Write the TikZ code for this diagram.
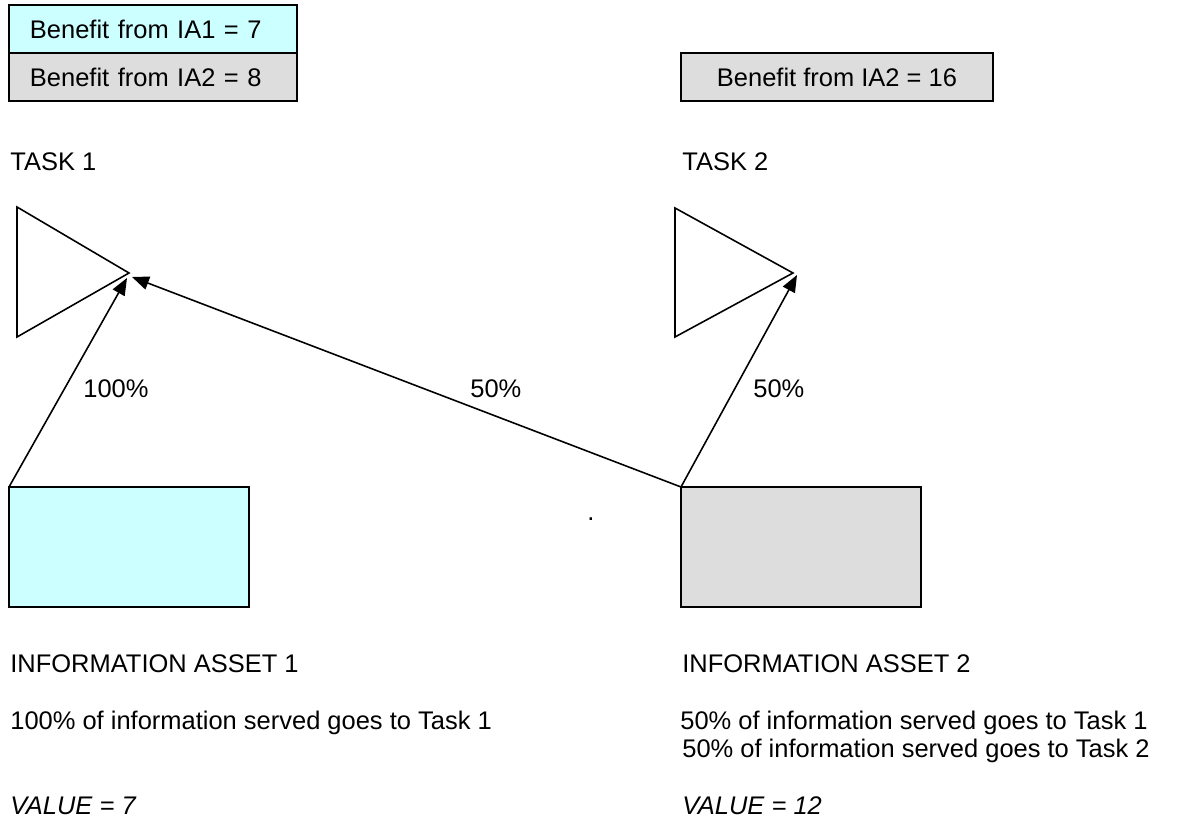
\documentclass[tikz,border=0pt]{standalone}
\usepackage{fontspec}
\setmainfont{Liberation Sans}
\usetikzlibrary{arrows.meta}
\definecolor{iacyan}{HTML}{CCFFFF}
\definecolor{iagray}{HTML}{DDDDDD}

\begin{document}
\begin{tikzpicture}[x=0.02cm,y=-0.02cm,
    txt/.style={anchor=base west,inner sep=0pt,font=\fontsize{14.5}{17}\selectfont},
    benefit/.style={draw,line width=1.2pt,outer sep=0pt,anchor=north west,minimum height=0.96cm,font=\fontsize{14.5}{17}\selectfont},
    asset/.style={draw,line width=1.2pt,outer sep=0pt,anchor=north west,minimum width=4.8cm,minimum height=2.4cm},
    task/.style={line width=0.9pt,line join=miter},
    flow/.style={line width=0.9pt,-{Triangle[length=0.34cm,width=0.27cm]}}]

    \useasboundingbox (0,0) rectangle (1184,830);

    \node[benefit,fill=iacyan,text width=4.92cm,inner xsep=0.42cm,align=left] (b11) at (9,5) {Benefit from IA1 = 7};
    \node[benefit,fill=iagray,text width=4.92cm,inner xsep=0.42cm,align=left] (b12) at (9,53) {Benefit from IA2 = 8};
    \node[benefit,fill=iagray,minimum width=6.24cm] (b22) at (681,53) {Benefit from IA2 = 16};

    \node[txt] (task1) at (10,171) {TASK 1};
    \node[txt] (task2) at (682,171) {TASK 2};

    \coordinate (apex1) at (129,273);
    \coordinate (apex2) at (793,273);
    \draw[task] (17,207) -- (apex1) -- (17,337) -- cycle;
    \draw[task] (675,208) -- (apex2) -- (675,337) -- cycle;

    \node[asset,fill=iacyan] (ia1) at (9,487) {};
    \node[asset,fill=iagray] (ia2) at (681,487) {};
    \node[txt] (dot) at (587,521) {.};

    \coordinate (in11) at (127,278);
    \coordinate (in12) at (132,277);
    \coordinate (in22) at (797,275);
    \draw[flow] (ia1.north west) -- (in11);
    \draw[flow] (ia2.north west) -- (in12);
    \draw[flow] (ia2.north west) -- (in22);

    \node[txt] (p11) at (83,398) {100\%};
    \node[txt] (p21) at (470,398) {50\%};
    \node[txt] (p22) at (753,398) {50\%};

    \node[txt] (name1) at (10,673) {INFORMATION ASSET 1};
    \node[txt] (name2) at (682,673) {INFORMATION ASSET 2};
    \node[txt] (use1) at (10,730) {100\% of information served goes to Task 1};
    \node[txt] (use21) at (680,730) {50\% of information served goes to Task 1};
    \node[txt] (use22) at (682,758) {50\% of information served goes to Task 2};
    \node[txt,font=\fontsize{14.5}{17}\selectfont\itshape] (val1) at (10,815) {VALUE = 7};
    \node[txt,font=\fontsize{14.5}{17}\selectfont\itshape] (val2) at (682,815) {VALUE = 12};

\end{tikzpicture}
\end{document}
